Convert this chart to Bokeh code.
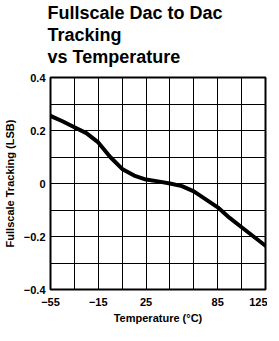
from bokeh.plotting import figure
from bokeh.models import Range1d, FixedTicker, Title
from bokeh.embed import file_html
from bokeh.resources import INLINE

# Data
temperature = [-55, -45, -35, -25, -15, -5, 5, 15, 25, 35, 45, 55, 65, 75, 85, 95, 105, 115, 125]
tracking = [0.255, 0.235, 0.212, 0.19, 0.155, 0.10, 0.055, 0.03, 0.015, 0.008, 0.0, -0.01,
            -0.03, -0.06, -0.09, -0.13, -0.165, -0.2, -0.235]

x_ticks = [-55, -15, 25, 85, 125]
x_tick_labels = ["\u221255", "\u221215", "25", "85", "125"]
y_ticks = [-0.4, -0.2, 0.0, 0.2, 0.4]
y_tick_labels = ["\u22120.4", "\u22120.2", "0", "0.2", "0.4"]
x_grid = [-55, -35, -15, 5, 25, 45, 65, 85, 105, 125]
y_grid = [-0.4, -0.3, -0.2, -0.1, 0.0, 0.1, 0.2, 0.3, 0.4]

title_lines = ["Fullscale Dac to Dac", "Tracking", "vs Temperature"]

FONT = "Liberation Sans"

p = figure(frame_width=215, frame_height=212, output_backend="svg", toolbar_location=None,
           x_range=Range1d(-55, 125), y_range=Range1d(-0.4, 0.4),
           min_border_left=46, min_border_right=2, min_border_top=0, min_border_bottom=0)

# spacer between title block and frame
p.add_layout(Title(text=" ", text_font_size="8px", standoff=0), "above")
for t in reversed(title_lines):
    p.add_layout(Title(text=t, text_font=FONT, text_font_size="18px", text_font_style="bold",
                       align="left", offset=-3, standoff=0, text_color="black"), "above")

p.outline_line_color = "black"
p.outline_line_width = 2
p.background_fill_color = "white"
p.border_fill_color = "white"

p.xaxis.ticker = FixedTicker(ticks=x_ticks)
p.xaxis.major_label_overrides = dict(zip(x_ticks, x_tick_labels))
p.yaxis.ticker = FixedTicker(ticks=y_ticks)
p.yaxis.major_label_overrides = dict(zip(y_ticks, y_tick_labels))

p.xgrid.ticker = FixedTicker(ticks=x_grid)
p.ygrid.ticker = FixedTicker(ticks=y_grid)
for g in (p.xgrid, p.ygrid):
    g.grid_line_color = "black"
    g.grid_line_width = 1
    g.grid_line_alpha = 1

for ax in (p.xaxis, p.yaxis):
    ax.axis_line_color = None
    ax.major_tick_line_color = None
    ax.minor_tick_line_color = None
    ax.major_tick_out = 0
    ax.major_tick_in = 0
    ax.minor_tick_out = 0
    ax.minor_tick_in = 0
    ax.major_label_text_font = FONT
    ax.major_label_text_font_style = "bold"
    ax.major_label_text_font_size = "11px"
    ax.major_label_text_color = "black"
    ax.axis_label_text_font = FONT
    ax.axis_label_text_font_style = "bold"
    ax.axis_label_text_color = "black"

p.xaxis.major_label_standoff = 8
p.yaxis.major_label_standoff = 5
p.xaxis.axis_label = "Temperature (\u00b0C)"
p.xaxis.axis_label_text_font_size = "11px"
p.xaxis.axis_label_standoff = 3
p.yaxis.axis_label = "Fullscale Tracking (LSB)"
p.yaxis.axis_label_text_font_size = "11px"
p.yaxis.axis_label_standoff = 5

p.line(temperature, tracking, line_color="black", line_width=4, line_join="round", line_cap="round")

open("out.html", "w").write(file_html(p, INLINE))
